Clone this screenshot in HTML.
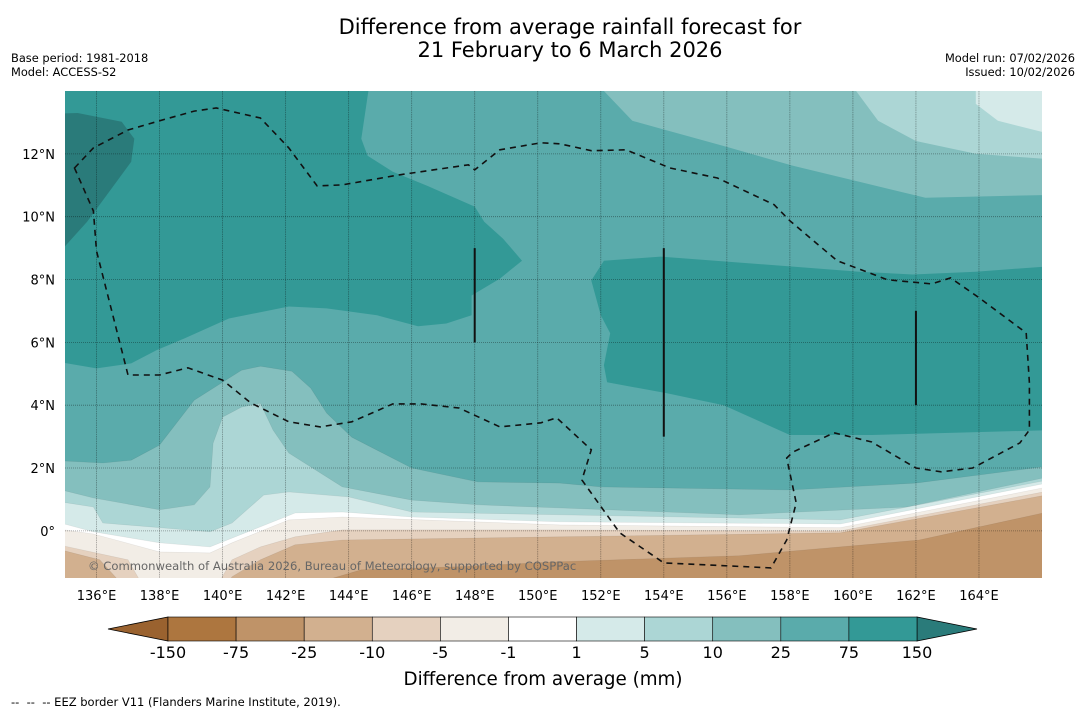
<!DOCTYPE html>
<html><head><meta charset="utf-8"><style>
body{margin:0;background:#fff;width:1085px;height:713px;overflow:hidden;font-family:"Liberation Sans",sans-serif}
svg{position:absolute;left:0;top:0}
</style></head><body>
<svg id="chart" width="1085" height="713" viewBox="0 0 1085 713" font-family="DejaVu Sans, Liberation Sans, sans-serif">
<text x="570" y="34" text-anchor="middle" font-size="21">Difference from average rainfall forecast for</text>
<text x="570" y="57" text-anchor="middle" font-size="21">21 February to 6 March 2026</text>
<text x="11" y="62" font-size="11.4">Base period: 1981-2018</text>
<text x="11" y="76" font-size="11.4">Model: ACCESS-S2</text>
<text x="1075" y="62" font-size="11.4" text-anchor="end">Model run: 07/02/2026</text>
<text x="1075" y="76" font-size="11.4" text-anchor="end">Issued: 10/02/2026</text>
<defs><clipPath id="mapclip"><rect x="65" y="91" width="977" height="487"/></clipPath></defs>
<g id="map" clip-path="url(#mapclip)"></g>
<g id="axes"></g>
<g id="cbar"></g>
<text x="543" y="685" text-anchor="middle" font-size="18.3">Difference from average (mm)</text>
<text x="11" y="706" font-size="11.5" xml:space="preserve" style="white-space:pre">--  --  -- EEZ border V11 (Flanders Marine Institute, 2019).</text>
</svg>
<script>
const lonTicks=[136,138,140,142,144,146,148,150,152,154,156,158,160,162,164];
const latTicks=[0,2,4,6,8,10,12];
const cbarLevels=["-150","-75","-25","-10","-5","-1","1","5","10","25","75","150"];
const cbarColors=["#ad763f","#bf9368","#d2b08f","#e5d1bf","#f2ede6","#ffffff","#d5eae9","#acd6d5","#84bfbe","#5aabab","#339996"];
// contour regions [lon,lat]
const region75West=[[134.5,14.5],[144.7,14.5],[144.4,12.48],[144.6,11.94],[145.4,11.43],[146.5,10.98],[148.0,10.32],[148.3,9.84],[148.9,9.30],[149.5,8.60],[148.8,8.03],[147.9,7.49],[147.9,6.86],[147.1,6.60],[146.2,6.51],[144.9,6.86],[143.3,7.08],[142.1,7.14],[140.2,6.76],[138.8,6.13],[137.9,5.75],[137.1,5.33],[136.0,5.17],[134.5,5.43]];
const region150West=[[134.5,13.27],[135.4,13.30],[136.8,13.02],[137.2,12.48],[137.1,11.75],[136.4,10.79],[135.7,9.84],[134.5,8.5]];
const region75East=[[152.1,8.60],[153.9,8.73],[156.0,8.57],[158.1,8.41],[160.2,8.25],[161.9,8.16],[163.9,8.25],[166.5,8.44],[166.5,3.21],[163.8,3.14],[160.6,3.05],[158.0,3.05],[155.9,4.0],[154.1,4.38],[152.2,4.73],[152.1,5.27],[152.3,6.29],[152.0,6.86],[151.7,7.97]];
const region10NE=[[152.1,14.5],[152.1,14.0],[153.0,13.05],[156.0,12.22],[158.1,11.62],[160.2,11.11],[162.3,10.6],[166.5,10.7],[166.5,14.5]];
const region5NE=[[160.1,14.5],[160.1,14.0],[160.8,13.05],[162.0,12.41],[163.9,12.0],[166.5,11.81],[166.5,14.5]];
const region1NE=[[163.9,14.5],[163.9,13.59],[164.6,13.05],[166.5,12.57],[166.5,14.5]];
// southward band boundaries (area below each line takes the colour)
const edge10=[[134.5,2.25],[136.2,2.16],[137.1,2.25],[138.0,2.73],[139.1,4.16],[139.7,4.54],[140.6,5.11],[141.2,5.24],[142.2,5.08],[142.8,4.54],[143.3,3.75],[144.1,2.98],[146.0,2.0],[148.1,1.56],[150.7,1.52],[152.0,1.40],[158.0,1.30],[162.0,1.52],[166.5,2.10]];
const edge5=[[134.5,1.40],[135.9,1.05],[138.0,0.67],[139.1,0.83],[139.6,1.40],[139.7,2.79],[140.0,3.62],[140.6,3.94],[141.2,4.06],[141.6,3.21],[142.1,2.48],[143.8,1.40],[146.0,0.98],[148.1,0.83],[150.7,0.73],[156.4,0.51],[161.7,0.76],[166.5,1.78]];
const edge1=[[134.5,0.98],[135.9,0.76],[136.2,0.25],[139.6,-0.03],[140.3,0.25],[141.3,1.14],[142.1,1.24],[144.0,1.08],[146.0,0.60],[150.7,0.51],[159.6,0.35],[166.5,1.68]];
const edgeM1=[[134.5,0.35],[135.9,-0.03],[138.0,-0.38],[139.6,-0.51],[141.2,0.13],[142.3,0.57],[143.8,0.60],[146.0,0.44],[150.7,0.29],[159.6,0.22],[166.5,1.59]];
const edgeM5=[[134.5,0.1],[135.9,-0.1],[138.0,-0.67],[139.6,-0.70],[140.3,-0.38],[142.1,0.35],[143.8,0.44],[150.7,0.19],[159.6,0.10],[166.5,1.46]];
const edgeM10=[[134.5,-0.38],[137.0,-0.92],[137.5,-1.8],[139.8,-1.8],[140.3,-0.92],[141.2,-0.51],[142.3,-0.19],[143.8,0.03],[150.7,0.03],[159.6,0.0],[166.5,1.33]];
const edgeM25=[[134.5,-0.51],[136.1,-0.92],[136.9,-1.8],[140.1,-1.8],[140.3,-1.46],[141.2,-0.92],[142.3,-0.44],[143.8,-0.29],[150.7,-0.19],[159.6,-0.06],[166.5,1.21]];
const edgeM75=[[134.5,-1.8],[142.5,-1.8],[144.4,-1.24],[147.5,-1.14],[150.7,-0.98],[156.4,-0.79],[162.1,-0.29],[166.5,0.67]];
const eezBorder=[[135.3,11.55],[135.9,12.19],[137.0,12.76],[138.0,13.05],[139.1,13.36],[139.8,13.46],[141.2,13.14],[142.1,12.19],[143.0,10.98],[143.8,11.01],[145.6,11.33],[147.8,11.65],[148.0,11.49],[148.8,12.13],[150.1,12.35],[150.7,12.32],[151.7,12.10],[152.8,12.13],[154.2,11.55],[155.7,11.23],[157.5,10.38],[158.0,9.87],[159.5,8.60],[161.1,7.99],[162.5,7.86],[163.1,8.05],[164.0,7.42],[165.5,6.30],[165.6,4.71],[165.6,3.21],[165.3,2.80],[163.8,2.0],[162.8,1.88],[162.0,2.0],[160.6,2.83],[159.4,3.12],[158.1,2.51],[157.9,2.32],[158.2,0.89],[157.9,-0.29],[157.4,-1.18],[154.0,-1.02],[152.6,-0.06],[151.4,1.62],[151.7,2.58],[150.6,3.60],[150.1,3.44],[148.8,3.31],[147.5,3.91],[146.3,4.04],[145.4,4.04],[144.1,3.47],[143.1,3.31],[142.1,3.47],[140.9,4.07],[140.0,4.80],[138.9,5.19],[138.0,4.96],[137.0,4.96],[136.0,8.91],[135.9,10.18]];
const solidLines=[[148,9,6],[154,9,3],[162,7,4]];

const lonMin=135,lonMax=166,latMin=-1.5,latMax=14;
const X=lon=>65+(lon-lonMin)*(977/(lonMax-lonMin));
const Y=lat=>91+(latMax-lat)*(487/(latMax-latMin));
const NS="http://www.w3.org/2000/svg";
const map=document.getElementById('map'),axes=document.getElementById('axes'),cbar=document.getElementById('cbar');
function mk(tag,attrs,parent){const e=document.createElementNS(NS,tag);for(const k in attrs)e.setAttribute(k,attrs[k]);parent.appendChild(e);return e;}
const pts=a=>a.map(p=>X(p[0]).toFixed(1)+','+Y(p[1]).toFixed(1)).join(' ');

let bg=mk('rect',{x:65,y:91,width:977,height:487,fill:'#5aabab'},map);


const regions=[[region75West,'#339996','region-75-west'],[region150West,'#2a7b7a','region-150-west'],[region75East,'#339996','region-75-east'],[region10NE,'#84bfbe','region-10-northeast'],[region5NE,'#acd6d5','region-5-northeast'],[region1NE,'#d5eae9','region-1-northeast']];
regions.forEach(r=>{const p=mk('polygon',{points:pts(r[0]),fill:r[1]},map);

});
const bands=[[edge10,'#84bfbe','band-10-25'],[edge5,'#acd6d5','band-5-10'],[edge1,'#d5eae9','band-1-5'],[edgeM1,'#ffffff','band-neutral'],[edgeM5,'#f2ede6','band-minus5'],[edgeM10,'#e5d1bf','band-minus10'],[edgeM25,'#d2b08f','band-minus25'],[edgeM75,'#bf9368','band-minus75']];
bands.forEach(b=>{const a=b[0].concat([[lonMax+1,-3],[lonMin-1,-3]]);
const p=mk('polygon',{points:pts(a),fill:b[1],stroke:'rgba(0,0,0,0.08)','stroke-width':0.6},map);

});
// grid
lonTicks.forEach(l=>{const g=mk('line',{x1:X(l),x2:X(l),y1:91,y2:578,stroke:'rgba(0,0,0,0.35)','stroke-width':0.8,'stroke-dasharray':'1.5 0.8'},map);

});
latTicks.forEach(l=>{const g=mk('line',{x1:65,x2:1042,y1:Y(l),y2:Y(l),stroke:'rgba(0,0,0,0.4)','stroke-width':0.8,'stroke-dasharray':'1 1'},map);

});
let eez=mk('polygon',{points:pts(eezBorder),fill:'none',stroke:'#111','stroke-width':1.6,'stroke-dasharray':'6 5'},map);


solidLines.forEach(s=>{const l=mk('line',{x1:X(s[0]),x2:X(s[0]),y1:Y(s[1]),y2:Y(s[2]),stroke:'#111','stroke-width':2},map);

});
let cp=mk('text',{x:88,y:570,'font-size':11.6,fill:'#666'},map);cp.textContent='© Commonwealth of Australia 2026, Bureau of Meteorology, supported by COSPPac';


// axes labels
lonTicks.forEach(l=>{const t=mk('text',{x:X(l),y:600,'font-size':13,'text-anchor':'middle'},axes);t.textContent=l+'°E';

});
latTicks.forEach(l=>{const t=mk('text',{x:55,y:Y(l)+5,'font-size':13,'text-anchor':'end'},axes);t.textContent=l===0?'0°':l+'°N';

});
// colorbar
const cx0=168,cx1=917,cy=617,ch=24,cw=(cx1-cx0)/cbarColors.length;
let tl=mk('polygon',{points:`108,${cy+ch/2} ${cx0},${cy} ${cx0},${cy+ch}`,fill:'#9a622f',stroke:'#000','stroke-width':0.8},cbar);


let tr=mk('polygon',{points:`977,${cy+ch/2} ${cx1},${cy} ${cx1},${cy+ch}`,fill:'#2a7b7a',stroke:'#000','stroke-width':0.8},cbar);


cbarColors.forEach((c,i)=>{const r=mk('rect',{x:cx0+i*cw,y:cy,width:cw,height:ch,fill:c,stroke:'#000','stroke-width':0.6},cbar);

});
cbarLevels.forEach((v,i)=>{const t=mk('text',{x:cx0+i*cw,y:658,'font-size':16,'text-anchor':'middle'},cbar);t.textContent=v;

});
</script>
</body></html>
